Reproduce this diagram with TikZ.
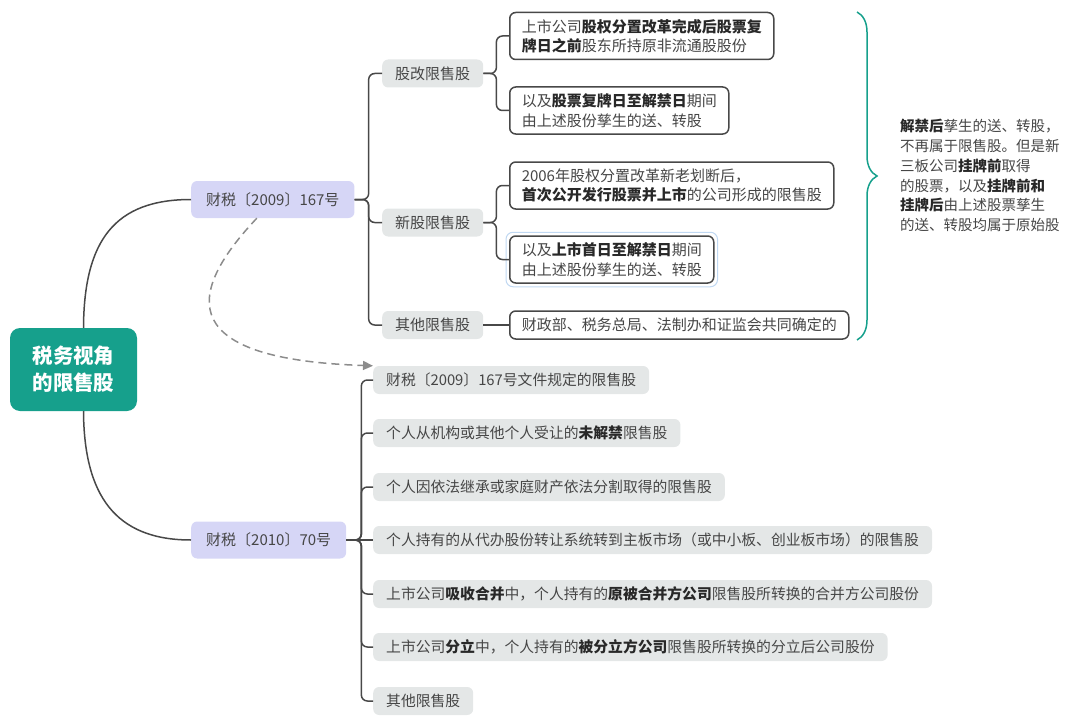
\documentclass[tikz,border=0pt]{standalone}
\usepackage{fontspec}
\setmainfont{Noto Sans CJK SC}
\usepackage{xcolor}
\usepackage{tikz}
\usetikzlibrary{arrows.meta,positioning,decorations.pathreplacing}
\definecolor{rootteal}{RGB}{22,160,140}
\definecolor{lawlilac}{RGB}{214,214,246}
\definecolor{catgray}{RGB}{228,231,231}
\definecolor{linegray}{RGB}{72,72,72}
\definecolor{textgray}{RGB}{70,70,70}
\definecolor{keydark}{RGB}{40,40,40}
\definecolor{dashgray}{RGB}{140,140,140}
\definecolor{selblue}{RGB}{192,216,242}
\newcommand{\kw}[1]{{\bfseries\color{keydark}#1}}

\begin{document}
\begin{tikzpicture}[
    x=1pt, y=-1pt,
    base/.style={rectangle, rounded corners=6pt, inner xsep=12pt, inner ysep=0pt, font=\fontsize{15}{19.5}\selectfont, text=textgray, anchor=west},
    rootbox/.style={rectangle, rounded corners=10pt, fill=rootteal, text=white, font=\fontsize{20.5}{27}\selectfont\bfseries, align=center, minimum width=127pt, minimum height=83pt},
    lawbox/.style={base, fill=lawlilac, minimum height=37pt, inner xsep=15pt},
    catbox/.style={base, fill=catgray, minimum height=28pt, inner xsep=13pt},
    notebox/.style={base, draw=linegray, line width=1.5pt, fill=white, align=left, minimum height=47pt},
    itembox/.style={base, fill=catgray, minimum height=28pt, inner xsep=13pt, font=\fontsize{14.8}{19.5}\selectfont},
    conn/.style={draw=linegray, line width=1.5pt, rounded corners=6pt},
    dasharrow/.style={draw=dashgray, line width=1.5pt, dash pattern=on 8pt off 5pt, -{Triangle[length=10pt, width=9pt]}}
]
\useasboundingbox (0,0) rectangle (1080,725);

% Root
\node[rootbox] (root) at (73.5,369.5) {税务视角\\的限售股};

% Two documents
\node[lawbox] (law09) at (191,199.5) {财税〔2009〕167号};
\node[lawbox] (law10) at (191,540) {财税〔2010〕70号};

% Categories of 2009
\node[catbox] (gaige) at (382,73.5) {股改限售股};
\node[catbox] (xingu) at (382,222.5) {新股限售股};
\node[catbox] (qita) at (382,325) {其他限售股};

% Notes
\node[notebox] (noteA) at (509,36) {上市公司\kw{股权分置改革完成后股票复}\\\kw{牌日之前}股东所持原非流通股股份};
\node[notebox] (noteB) at (509,110.5) {以及\kw{股票复牌日至解禁日}期间\\由上述股份孳生的送、转股};
\node[notebox] (noteC) at (509,185.5) {2006年股权分置改革新老划断后，\\\kw{首次公开发行股票并上市}的公司形成的限售股};
\node[notebox] (noteD) at (509,259.5) {以及\kw{上市首日至解禁日}期间\\由上述股份孳生的送、转股};
\node[notebox, minimum height=28pt] (noteE) at (509,325) {财政部、税务总局、法制办和证监会共同确定的};
\draw[selblue, line width=1pt, rounded corners=7pt] ([shift={(-3pt,-3pt)}]noteD.south west) rectangle ([shift={(3pt,3pt)}]noteD.north east);

% Brace and remark
\coordinate (bracetop) at (857,12);
\coordinate (bracebot) at (857,340);
\draw[rootteal, line width=1.5pt, decorate, decoration={brace, amplitude=20pt}] (bracetop) -- (bracebot);
\node[anchor=west, align=left, inner sep=0pt, font=\fontsize{14.5}{19.8}\selectfont, text=textgray] (remark) at (900,175.5)
  {\kw{解禁后}孳生的送、转股，\\不再属于限售股。但是新\\三板公司\kw{挂牌前}取得\\的股票，以及\kw{挂牌前和}\\\kw{挂牌后}由上述股票孳生\\的送、转股均属于原始股};

% Items of 2010
\node[itembox] (itemA) at (373,380) {财税〔2009〕167号文件规定的限售股};
\node[itembox] (itemB) at (373,433) {个人从机构或其他个人受让的\kw{未解禁}限售股};
\node[itembox] (itemC) at (373,487) {个人因依法继承或家庭财产依法分割取得的限售股};
\node[itembox] (itemD) at (373,540) {个人持有的从代办股份转让系统转到主板市场（或中小板、创业板市场）的限售股};
\node[itembox] (itemE) at (373,594) {上市公司\kw{吸收合并}中，个人持有的\kw{原被合并方公司}限售股所转换的合并方公司股份};
\node[itembox] (itemF) at (373,647) {上市公司\kw{分立}中，个人持有的\kw{被分立方公司}限售股所转换的分立后公司股份};
\node[itembox] (itemG) at (373,701) {其他限售股};

% Connectors
\draw[conn] ([xshift=10pt]root.north) .. controls (84,240) and (115,199.5) .. (law09.west);
\draw[conn] ([xshift=10pt]root.south) .. controls (84,495) and (115,540) .. (law10.west);
\foreach \n in {gaige,xingu,qita}
  \draw[conn] (law09.east) -- ++(14,0) |- (\n.west);
\foreach \n in {noteA,noteB}
  \draw[conn] (gaige.east) -- ++(13,0) |- (\n.west);
\foreach \n in {noteC,noteD}
  \draw[conn] (xingu.east) -- ++(13,0) |- (\n.west);
\draw[conn] (qita.east) -- (noteE.west);
\foreach \n in {itemA,itemB,itemC,itemE,itemF,itemG}
  \draw[conn] (law10.east) -- ++(15,0) |- (\n.west);
\draw[conn] (law10.east) -- (itemD.west);

% Reference from 2010 to 2009
\draw[dasharrow] ([xshift=-16pt]law09.south) .. controls (170,310) and (200,360) .. (itemA.north west);
\end{tikzpicture}
\end{document}
